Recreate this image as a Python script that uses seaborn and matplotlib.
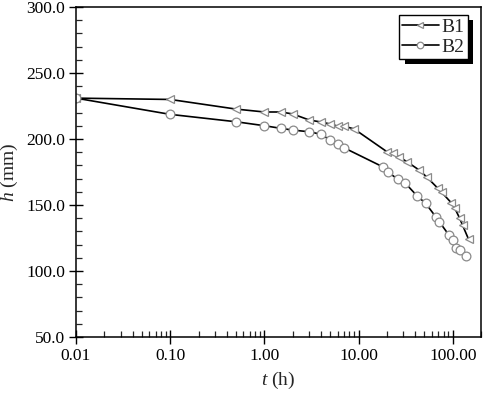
import numpy as np
import pandas as pd
import matplotlib
matplotlib.use("Agg")
import matplotlib.pyplot as plt
import matplotlib.ticker as mticker
from matplotlib.patches import Rectangle
from matplotlib.transforms import IdentityTransform
import seaborn as sns

# Data
t_b1 = [0.01, 0.1, 0.5, 1.0, 1.5, 2.0, 3.0, 4.0, 5.0, 6.0, 7.0, 9.0,
        20, 23, 27, 33, 44, 53, 69, 76, 97, 105, 118, 127, 147]
h_b1 = [231.0, 230.0, 222.7, 220.5, 220.5, 219.0, 214.4, 212.9, 211.4, 209.8, 209.8, 207.6,
        190.4, 189.4, 186.4, 182.6, 176.5, 171.2, 162.9, 159.8, 151.5, 147.7, 140.2, 134.8, 124.2]
t_b2 = [0.01, 0.1, 0.5, 1.0, 1.5, 2.0, 3.0, 4.0, 5.0, 6.0, 7.0,
        18, 20.5, 26, 31, 42, 51.5, 66, 72, 91, 100, 109, 118, 137]
h_b2 = [231.0, 218.7, 213.1, 210.1, 208.1, 206.8, 205.5, 203.6, 199.2, 196.0, 193.4,
        179.0, 175.2, 169.5, 166.9, 156.8, 151.3, 141.1, 137.3, 127.3, 123.5, 117.2, 115.9, 111.4]
x_ticks = [0.01, 0.1, 1, 10, 100]

sns.set_style("ticks")
plt.rcParams['font.family'] = ['Liberation Serif', 'DejaVu Serif']
plt.rcParams['mathtext.fontset'] = 'custom'
plt.rcParams['mathtext.it'] = 'Liberation Serif:italic'
plt.rcParams['mathtext.rm'] = 'Liberation Serif'

fig = plt.figure(figsize=(4.84, 3.93), dpi=100)
ax = fig.add_axes([0.157, 0.1425, 0.837, 0.8395])

df1 = pd.DataFrame({"t": t_b1, "h": h_b1})
df2 = pd.DataFrame({"t": t_b2, "h": h_b2})
common = dict(color="black", linewidth=1.2, markersize=6.3,
              markerfacecolor="white", markeredgecolor="#8a8a8a",
              markeredgewidth=0.9, estimator=None, sort=False)
sns.lineplot(data=df1, x="t", y="h", marker="<", label="B1", ax=ax, **common)
sns.lineplot(data=df2, x="t", y="h", marker="o", label="B2", ax=ax, **common)

ax.set_xscale("log")
ax.set_xlim(0.01, 200)
ax.set_ylim(50, 300)
ax.set_xticks(x_ticks)
ax.xaxis.set_major_formatter(mticker.FormatStrFormatter('%.2f'))
ax.xaxis.set_minor_locator(mticker.LogLocator(base=10, subs=np.arange(2, 10)))
ax.xaxis.set_minor_formatter(mticker.NullFormatter())
ax.yaxis.set_major_locator(mticker.MultipleLocator(50))
ax.yaxis.set_minor_locator(mticker.MultipleLocator(10))
ax.yaxis.set_major_formatter(mticker.FormatStrFormatter('%.1f'))

ax.tick_params(which='major', direction='inout', length=10, width=1.0,
               labelsize=12.5, colors='black', pad=3)
ax.tick_params(which='minor', direction='in', length=4, width=0.9)
for s in ax.spines.values():
    s.set_linewidth(1.1)
    s.set_color('black')

ax.set_xlabel(r"$t$ (h)", fontsize=14, labelpad=4)
ax.set_ylabel(r"$h$ (mm)", fontsize=14, labelpad=4)

leg = ax.legend(loc='upper right', bbox_to_anchor=(0.967, 0.976), borderaxespad=0,
                fontsize=14, frameon=True, fancybox=False, markerscale=0.75,
                edgecolor='black', framealpha=1,
                handlelength=1.9, handletextpad=0.15, borderpad=0.15,
                labelspacing=0.15)
leg.get_frame().set_linewidth(1.0)
leg.set_zorder(10)

fig.canvas.draw()
bb = leg.get_window_extent()
off = 5.5
shadow = Rectangle((bb.x0 + off, bb.y0 - off), bb.width, bb.height,
                   transform=IdentityTransform(), facecolor='black', edgecolor='none',
                   zorder=9, clip_on=False)
ax.add_patch(shadow)

fig.savefig("out.png", dpi=100)
